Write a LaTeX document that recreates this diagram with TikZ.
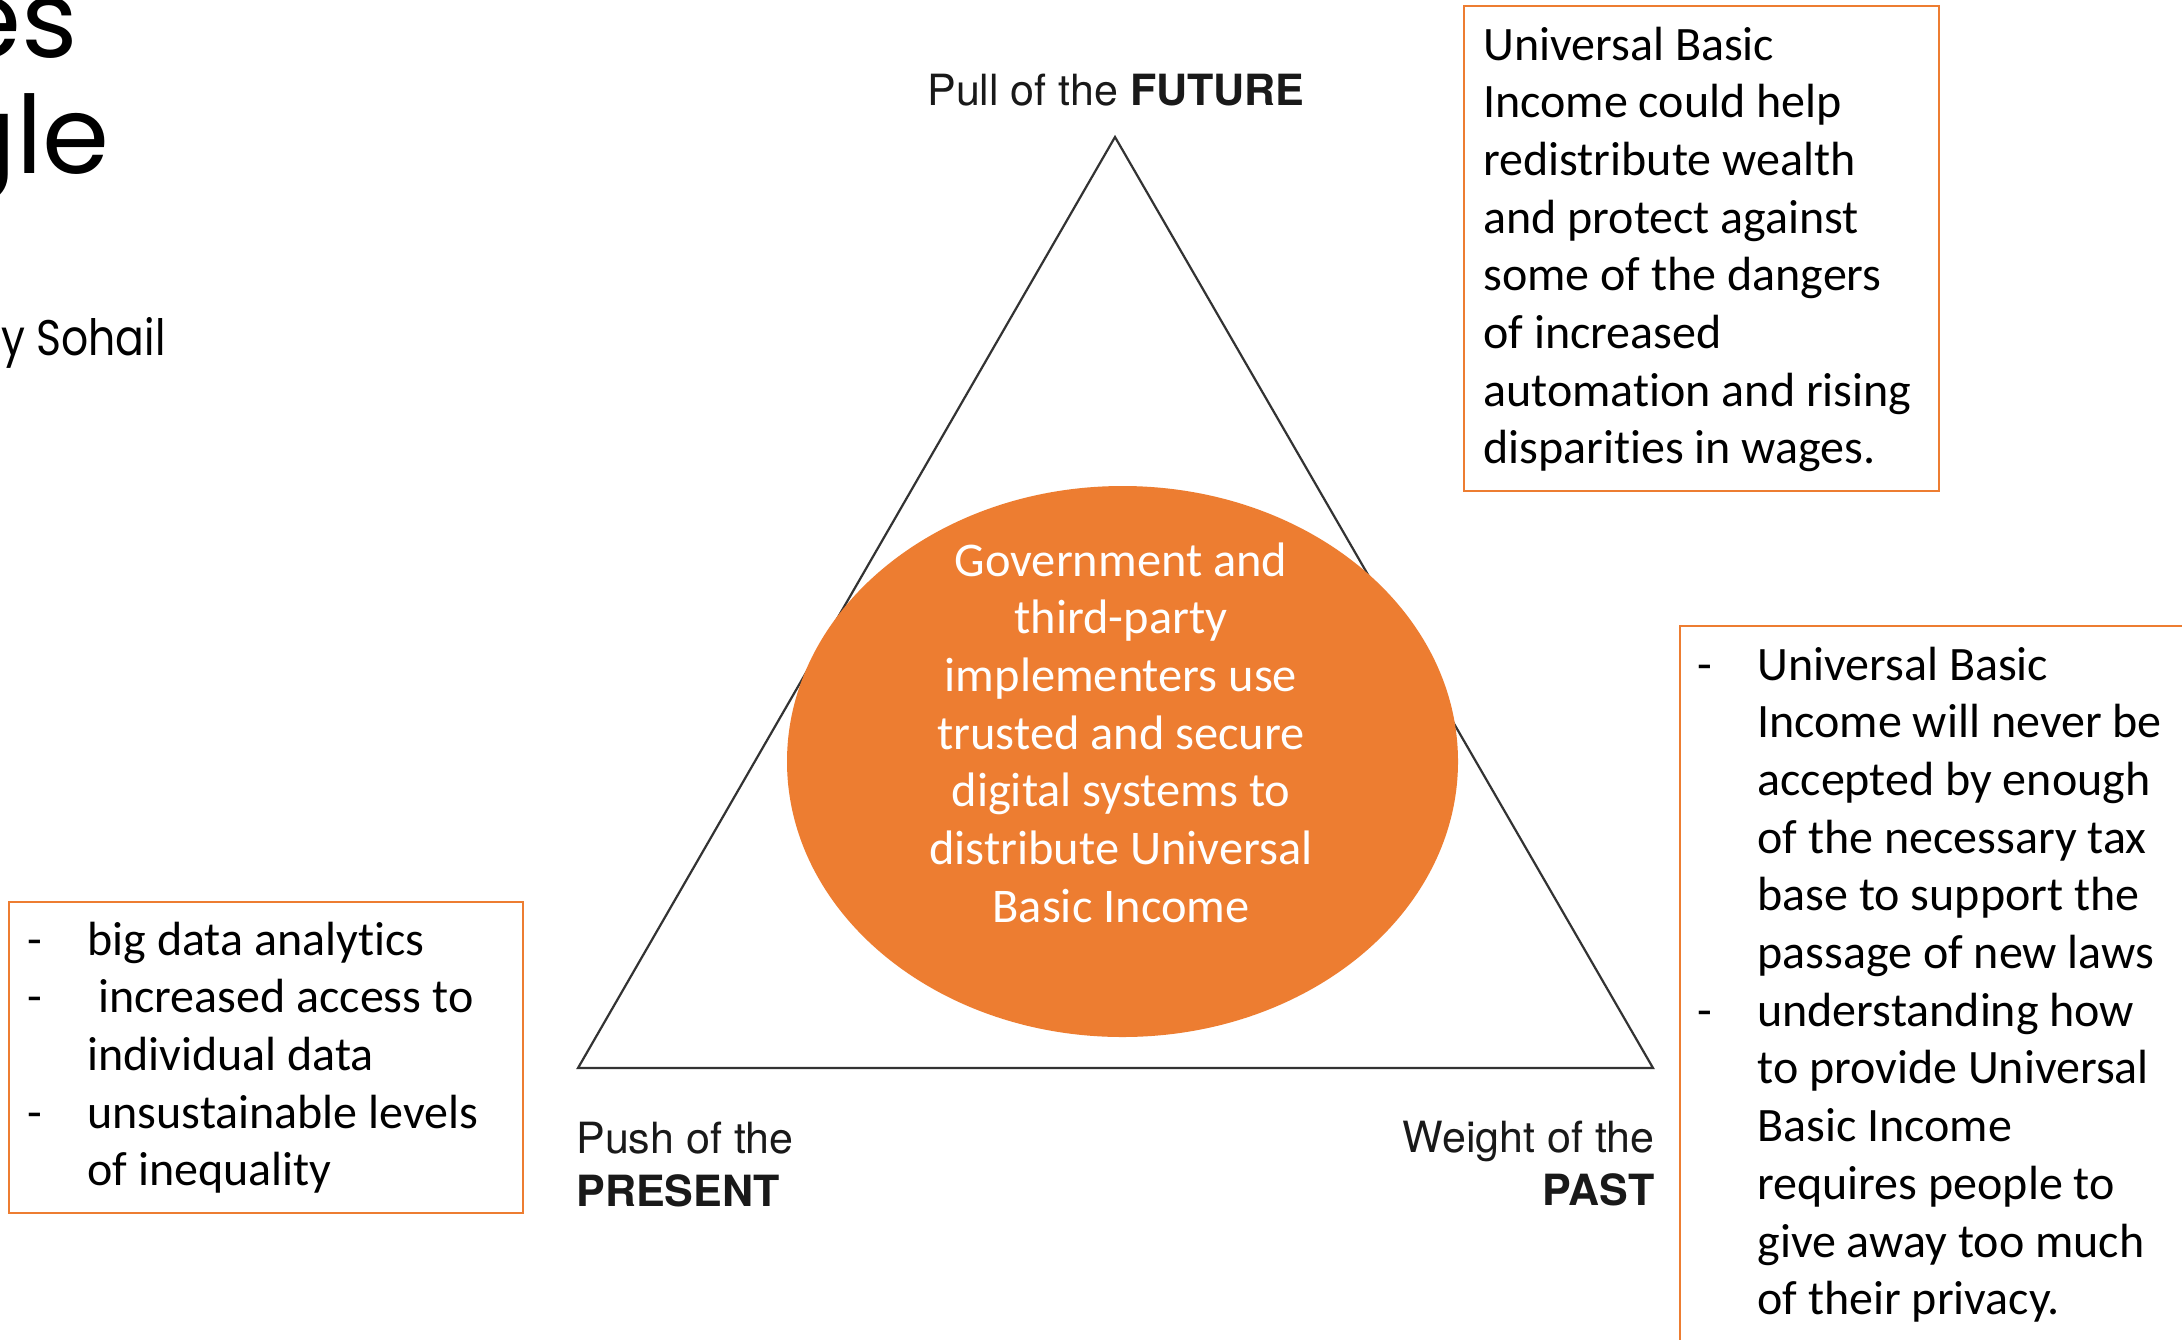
\documentclass[tikz,border=0pt]{standalone}
\usepackage{fontspec}
\setmainfont{Carlito}[Ligatures={NoCommon}]
\newfontfamily\herosfont{TeX Gyre Heros}
\newfontfamily\titlefont{Poppins}
\newfontfamily\authorfont[FakeStretch=0.85]{Poppins}
\usetikzlibrary{shapes.geometric}
\definecolor{ubiorange}{HTML}{ED7D31}
\definecolor{tricol}{HTML}{333333}
\newcommand\leftlines[2]{\vtop{\baselineskip=#1\lineskiplimit=-1000pt\lineskip=0pt\halign{##\hfil\cr#2\crcr}}}
\newcommand\ctrlines[2]{\vtop{\baselineskip=#1\lineskiplimit=-1000pt\lineskip=0pt\halign{\hfil##\hfil\cr#2\crcr}}}
\newcommand\rightlines[2]{\vtop{\baselineskip=#1\lineskiplimit=-1000pt\lineskip=0pt\halign{\hfil##\cr#2\crcr}}}
\newcommand\lsdash{\hbox to 30pt{-\hfil}}
\newcommand\lsgap{\hbox to 30pt{\hfil}}
\tikzset{
  orangebox/.style={draw=ubiorange, line width=1.2pt, inner sep=0pt, anchor=north west},
  boxtext/.style={inner sep=0pt, anchor=base west, font=\fontsize{24pt}{28.85pt}\selectfont},
  labeltext/.style={inner sep=0pt, font=\herosfont\fontsize{21.5pt}{26.5pt}\selectfont, text=black!90},
  titletext/.style={inner sep=0pt, anchor=base east, font=\titlefont\fontsize{54pt}{58pt}\selectfont},
}
\begin{document}
\begin{tikzpicture}[x=0.5pt, y=-0.5pt]
\useasboundingbox (0,0) rectangle (2182,1339);
\clip (0,0) rectangle (2182,1339);
\fill[white] (0,0) rectangle (2182,1339);

% title fragments
\node[titletext] (tes) at (78,57) {es};
\node[titletext] (tgle) at (110,173) {gle};
\node[titletext, font=\authorfont\fontsize{25pt}{30pt}\selectfont] (tauthor) at (166,355) {y Sohail};

% boxes
\node[orangebox, minimum width=237.5pt, minimum height=242.5pt] (boxF) at (1463,5) {};
\node[orangebox, minimum width=257pt, minimum height=155.5pt] (boxL) at (8,901) {};
\node[orangebox, minimum width=260.5pt, minimum height=387.5pt] (boxR) at (1679,625) {};

% triangle
\coordinate (apex) at (1115,137);
\coordinate (cornerL) at (578,1068);
\coordinate (cornerR) at (1653,1068);
\draw[tricol, line width=1.1pt, line join=miter] (apex) -- (cornerL) -- (cornerR) -- cycle;

% central ellipse
\node[ellipse, fill=ubiorange, draw=none, inner sep=0pt, minimum width=335.5pt, minimum height=275.5pt] (core) at (1122.5,761.5) {};
\node[inner sep=0pt, anchor=base, text=white, font=\fontsize{24.2pt}{28.85pt}\selectfont] (coretext) at (1121,576)
  {\ctrlines{28.85pt}{Government and\cr third-party\cr implementers use\cr trusted and secure\cr digital systems to\cr distribute Universal\cr Basic Income}};

% corner labels
\node[labeltext, anchor=base] (future) at (1116,105) {Pull of the \textbf{FUTURE}};
\node[labeltext, anchor=base west] (present) at (576,1153) {\leftlines{26.5pt}{Push of the\cr \textbf{PRESENT}}};
\node[labeltext, anchor=base east] (past) at (1655,1152) {\rightlines{26.5pt}{Weight of the\cr \textbf{PAST}}};

% box texts
\node[boxtext] (textF) at (1483,60) {\leftlines{28.85pt}{Universal Basic\cr Income could help\cr redistribute wealth\cr and protect against\cr some of the dangers\cr of increased\cr automation and rising\cr disparities in wages.}};
\node[boxtext] (textL) at (27,955) {\leftlines{28.85pt}{\lsdash big data analytics\cr \lsdash\ increased access to\cr \lsgap individual data\cr \lsdash unsustainable levels\cr \lsgap of inequality}};
\node[boxtext] (textR) at (1697,680) {\leftlines{28.85pt}{\lsdash Universal Basic\cr \lsgap Income will never be\cr \lsgap accepted by enough\cr \lsgap of the necessary tax\cr \lsgap base to support the\cr \lsgap passage of new laws\cr \lsdash understanding how\cr \lsgap to provide Universal\cr \lsgap Basic Income\cr \lsgap requires people to\cr \lsgap give away too much\cr \lsgap of their privacy.}};
\end{tikzpicture}
\end{document}
